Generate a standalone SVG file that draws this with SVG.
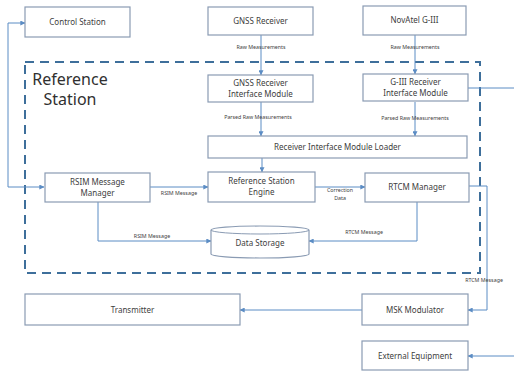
<svg xmlns="http://www.w3.org/2000/svg" width="514" height="371" viewBox="0 0 514 371">
<style>
.box{fill:#ffffff;stroke:#8a9bb3;stroke-width:1.2}
.t{font-family:"Noto Sans","Liberation Sans",sans-serif;font-size:8px;fill:#404040;text-anchor:middle}
.s{font-family:"Noto Sans","Liberation Sans",sans-serif;font-size:5.3px;fill:#404040;text-anchor:middle}
.c{fill:none;stroke:#5b8cc4;stroke-width:1}
</style>
<defs>
<marker id="a" viewBox="0 0 8 8" refX="7.5" refY="4" markerWidth="5" markerHeight="5" orient="auto-start-reverse" markerUnits="userSpaceOnUse">
<path d="M0,0 L8,4 L0,8 z" fill="#5b8cc4"/>
</marker>
</defs>
<rect x="0" y="0" width="514" height="371" fill="#ffffff"/>

<g id="reference-station-boundary">
<rect x="25" y="62" width="455" height="211" fill="none" stroke="#3e6f9b" stroke-width="2" stroke-dasharray="9,6"/>
<text x="70" y="85" font-family="Noto Sans, Liberation Sans, sans-serif" font-size="16" fill="#303030" text-anchor="middle">Reference</text>
<text x="70" y="105" font-family="Noto Sans, Liberation Sans, sans-serif" font-size="16" fill="#303030" text-anchor="middle">Station</text>
</g>

<g id="connectors">
<path class="c" d="M44,187 H8 V23 H25" marker-start="url(#a)" marker-end="url(#a)"/>
<path class="c" d="M261,35 V75" marker-end="url(#a)"/>
<text class="s" x="261" y="49">Raw Measurements</text>
<path class="c" d="M415,35 V74" marker-end="url(#a)"/>
<text class="s" x="415" y="49">Raw Measurements</text>
<path class="c" d="M261,102 V136" marker-end="url(#a)"/>
<text class="s" x="258" y="119">Parsed Raw Measurements</text>
<path class="c" d="M415,102 V136" marker-end="url(#a)"/>
<text class="s" x="415" y="120">Parsed Raw Measurements</text>
<path class="c" d="M262,158 V172" marker-end="url(#a)"/>
<path class="c" d="M150,187 H208" marker-end="url(#a)"/>
<text class="s" x="179" y="195">RSIM Message</text>
<path class="c" d="M315,187 H365" marker-end="url(#a)"/>
<text class="s" x="340" y="192">Correction</text>
<text class="s" x="340" y="200">Data</text>
<path class="c" d="M98,202 V241 H211" marker-end="url(#a)"/>
<text class="s" x="152" y="238">RSIM Message</text>
<path class="c" d="M417,202 V241 H309" marker-end="url(#a)"/>
<text class="s" x="364" y="234">RTCM Message</text>
<path class="c" d="M469,186 H487 V310 H468" marker-end="url(#a)"/>
<text class="s" x="484" y="282">RTCM Message</text>
<path class="c" d="M468,88 H514"/>
<path class="c" d="M362,310 H240" marker-end="url(#a)"/>
<path class="c" d="M514,356 H468" marker-end="url(#a)"/>
</g>

<g id="control-station">
<rect class="box" x="25" y="7" width="105" height="30"/>
<text class="t" x="77.5" y="25">Control Station</text>
</g>
<g id="gnss-receiver">
<rect class="box" x="208" y="7" width="105" height="28"/>
<text class="t" x="260.5" y="24">GNSS Receiver</text>
</g>
<g id="novatel-g3">
<rect class="box" x="363" y="6" width="103" height="29"/>
<text class="t" x="414.5" y="23">NovAtel G-III</text>
</g>
<g id="gnss-interface">
<rect class="box" x="208" y="75" width="105" height="27"/>
<text class="t" x="260.5" y="86">GNSS Receiver</text>
<text class="t" x="260.5" y="97">Interface Module</text>
</g>
<g id="g3-interface">
<rect class="box" x="363" y="74" width="105" height="27"/>
<text class="t" x="415.5" y="85">G-III Receiver</text>
<text class="t" x="415.5" y="96">Interface Module</text>
</g>
<g id="loader">
<rect class="box" x="208" y="136" width="259" height="22"/>
<text class="t" x="337.5" y="150">Receiver Interface Module Loader</text>
</g>
<g id="rsim-manager">
<rect class="box" x="45" y="173" width="105" height="29"/>
<text class="t" x="97.5" y="185">RSIM Message</text>
<text class="t" x="97.5" y="196">Manager</text>
</g>
<g id="engine">
<rect class="box" x="208" y="172" width="107" height="30"/>
<text class="t" x="261.5" y="184">Reference Station</text>
<text class="t" x="261.5" y="195">Engine</text>
</g>
<g id="rtcm-manager">
<rect class="box" x="365" y="173" width="104" height="29"/>
<text class="t" x="417" y="190">RTCM Manager</text>
</g>
<g id="data-storage">
<path class="box" d="M211,230 A49,4 0 0 1 309,230 V254 A49,4 0 0 1 211,254 Z"/>
<path fill="none" stroke="#8a9bb3" stroke-width="1" d="M211,230 A49,4 0 0 0 309,230"/>
<text class="t" x="260" y="246">Data Storage</text>
</g>
<g id="transmitter">
<rect class="box" x="25" y="294" width="215" height="31"/>
<text class="t" x="132.5" y="313">Transmitter</text>
</g>
<g id="msk-modulator">
<rect class="box" x="362" y="294" width="106" height="31"/>
<text class="t" x="415" y="313">MSK Modulator</text>
</g>
<g id="external-equipment">
<rect class="box" x="362" y="341" width="106" height="29"/>
<text class="t" x="415" y="359">External Equipment</text>
</g>
</svg>
